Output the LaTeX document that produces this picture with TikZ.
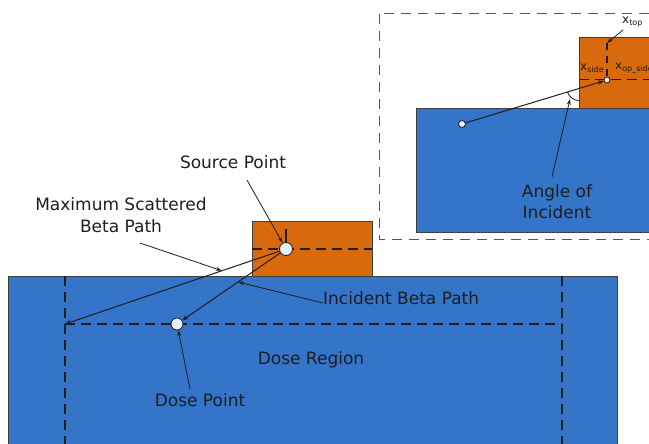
\documentclass[tikz,border=0pt]{standalone}
\usepackage{fontspec}
\setmainfont{DejaVu Sans}
\usetikzlibrary{arrows.meta,calc}
\definecolor{slabblue}{HTML}{3474C9}
\definecolor{srcorange}{HTML}{D9690D}
\definecolor{ink}{HTML}{1E1E1E}
\begin{document}
\begin{tikzpicture}[x=1pt,y=1pt,
  slab/.style={fill=slabblue,draw=ink!85,line width=0.8pt},
  srcblock/.style={fill=srcorange,draw=ink!85,line width=0.8pt},
  guide/.style={draw=ink,line width=1.2pt,dash pattern=on 10pt off 6pt},
  insetframe/.style={draw=ink!75,line width=1pt,dash pattern=on 10pt off 7pt},
  probe/.style={circle,draw=ink,fill=white!88!slabblue,line width=0.8pt,inner sep=0pt,minimum size=#1},
  beam/.style={draw=ink,line width=1pt,-{Stealth[length=6pt,width=4.5pt]}},
  leader/.style={draw=ink,line width=0.8pt,-{Stealth[length=6pt,width=4pt]}},
  lbl/.style={text=ink,font=\fontsize{17}{22}\selectfont,align=center,inner sep=0pt},
  sublbl/.style={text=ink,font=\fontsize{12}{14}\selectfont,inner sep=0pt},
]
\clip (0,0) rectangle (649,-444);

% ---------------- main view ----------------
% dose slab and dose-region outline
\path[slab] (8,-276) rectangle (617,-470);
\draw[guide] (65,-276) -- (65,-460);
\draw[guide] (562,-276) -- (562,-460);
\draw[guide] (65,-324) -- (562,-324);

% source block with its mid-plane
\path[srcblock] (252,-221) rectangle (372,-276);
\draw[guide] (252,-249) -- (372,-249);

\coordinate (corner) at (65,-324);
\coordinate (srctick) at (286,-229);
\node[probe=13pt] (src) at (286,-249) {};
\node[probe=12pt] (dose) at (177,-324) {};
\draw[line width=1.1pt,draw=ink] (srctick) -- (src.north);

% beta paths
\draw[beam] (src) -- (corner);
\draw[beam] (src) -- (dose);

% labels and leaders
\node[lbl] (srclbl) at (233,-162) {Source Point};
\coordinate (srclead) at (247,-180);
\draw[leader] (srclead) -- (src);

\node[lbl] (maxlbl) at (121,-215) {Maximum Scattered\\Beta Path};
\coordinate (maxlead) at (140,-243);
\coordinate (maxhit) at ($(src)!0.29!(corner)$);
\draw[leader] (maxlead) -- (maxhit);

\node[lbl,anchor=west] (inclbl) at (323,-298) {Incident Beta Path};
\coordinate (inclead) at (323,-303);
\coordinate (inchit) at ($(src)!0.44!(dose)$);
\draw[leader] (inclead) -- (inchit);

\node[lbl] (doselbl) at (200,-400) {Dose Point};
\coordinate (doselead) at (190,-389);
\draw[leader] (doselead) -- (dose);

\node[lbl] (regionlbl) at (311,-360) {Dose Region};

% ---------------- detail view ----------------
\draw[insetframe] (379,-14) rectangle (680,-239);
\path[slab] (416,-108) rectangle (680,-232);
\path[srcblock] (579,-37) rectangle (680,-108);
\draw[guide,line width=1pt] (579,-80) -- (680,-80);

\node[probe=6pt] (si) at (607,-80) {};
\node[probe=7pt] (di) at (462,-124) {};
\coordinate (sitop) at (607,-43);
\draw[draw=ink,line width=1.1pt,dash pattern=on 7pt off 6pt] (sitop) -- (si.north);
\draw[beam] (di) -- (si);

% angle of incidence between the path and the block face
\coordinate (ac) at (579,-88.5);
\draw[draw=ink,line width=0.8pt] (ac) ++(197:12pt) arc[start angle=197,end angle=270,radius=12pt];

\node[lbl] (anglbl) at (557,-202) {Angle of\\[-1pt]Incident};
\coordinate (anglead) at (552,-177);
\coordinate (anghit) at (570,-99);
\draw[leader] (anglead) -- (anghit);

% thickness labels
\node[sublbl,anchor=west] (xtop) at (622,-22) {x\textsubscript{top}};
\coordinate (xtoplead) at (623,-30);
\draw[leader] (xtoplead) -- (sitop);
\node[sublbl,anchor=west] (xside) at (580,-68) {x\textsubscript{side}};
\node[sublbl,anchor=west] (xop) at (615,-68) {x\textsubscript{op\_side}};
\end{tikzpicture}
\end{document}
